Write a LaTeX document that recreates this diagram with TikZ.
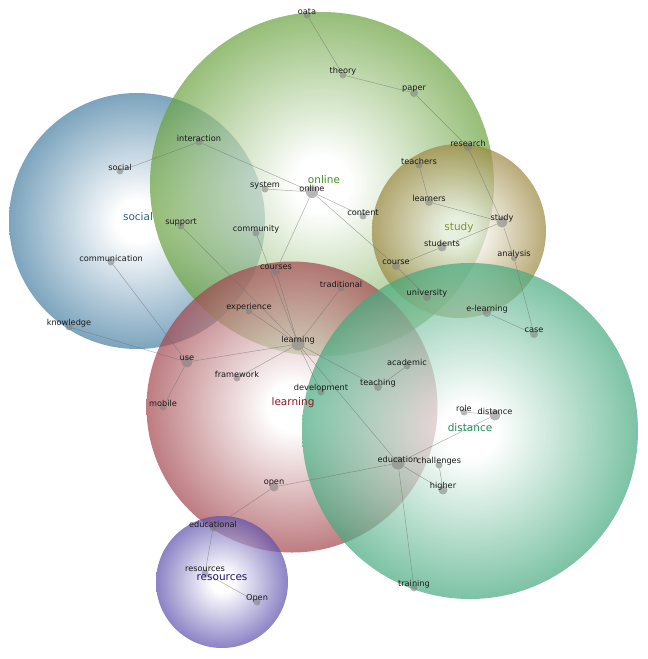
\documentclass[tikz,border=0pt]{standalone}
\usepackage{fontspec}
\setmainfont{DejaVu Sans}
\usetikzlibrary{positioning}
\usepackage{xcolor}
\definecolor{onlinegreen}{RGB}{105,162,62}
\definecolor{socialblue}{RGB}{69,126,162}
\definecolor{studytan}{RGB}{155,134,62}
\definecolor{learningred}{RGB}{162,69,76}
\definecolor{distgreen}{RGB}{69,169,126}
\definecolor{respurple}{RGB}{90,78,172}
\definecolor{onlinelabel}{RGB}{70,140,40}
\definecolor{sociallabel}{RGB}{40,100,140}
\definecolor{studylabel}{RGB}{130,145,40}
\definecolor{learninglabel}{RGB}{150,20,30}
\definecolor{distlabel}{RGB}{30,140,90}
\definecolor{reslabel}{RGB}{30,20,120}
\definecolor{dotgray}{RGB}{125,125,125}
\definecolor{linkgray}{RGB}{110,110,110}
\definecolor{wordblack}{RGB}{25,25,25}
\colorlet{bubblecol}{gray}
\pgfdeclareradialshading[bubblecol]{bubble}{\pgfpoint{0bp}{0bp}}{%
    color(0bp)=(white); color(4bp)=(white); color(25bp)=(bubblecol); color(50bp)=(bubblecol)}
\tikzset{
    bubble color/.code={\colorlet{bubblecol}{#1}},
    bubble/.style={
        circle,
        inner sep=0pt,
        outer sep=0pt,
        shading=bubble,
        opacity=0.7
    },
    dot/.style={
        circle,
        inner sep=0pt,
        fill=dotgray,
        opacity=0.55
    },
    word/.style={
        font=\fontsize{8.2}{9}\selectfont,
        text=wordblack,
        inner sep=0pt
    },
    cluster/.style={
        font=\fontsize{10.5}{12}\selectfont,
        inner sep=0pt
    },
    link/.style={
        draw=linkgray,
        line width=0.45pt,
        opacity=0.6
    }
}
\begin{document}
\begin{tikzpicture}[x=1pt, y=-1pt]
\useasboundingbox (0,0) rectangle (648,659);

% === CLUSTERS ===
\node[bubble color=socialblue, bubble, minimum size=256pt] (c-social) at (137,221) {};
\node[bubble color=onlinegreen, bubble, minimum size=344pt] (c-online) at (322,184) {};
\node[bubble color=studytan, bubble, minimum size=174pt] (c-study) at (459,231) {};
\node[bubble color=learningred, bubble, minimum size=291pt] (c-learning) at (292,407) {};
\node[bubble color=distgreen, bubble, minimum size=336pt] (c-distance) at (470,431) {};
\node[bubble color=respurple, bubble, minimum size=132pt] (c-resources) at (222,582) {};

% === WORDS ===
\foreach \n/\x/\y/\d in {
    oata/307/15/7, theory/343/75/7, paper/414/93/8, research/468/147/8,
    interaction/199/142/7, social/120/171/7, system/265/189/7, online/312/192/12,
    content/363/216/7, teachers/419/165/7, learners/429/202/8, study/502/222/11,
    support/181/226/7, community/256/233/7, communication/111/262/7, students/442/247/9,
    analysis/514/258/6, course/396/266/8, courses/276/271/9, traditional/341/288/7,
    university/427/297/8, experience/249/311/7, e-learning/487/313/8, knowledge/69/327/7,
    case/534/334/8, learning/298/344/13, use/187/362/11, academic/407/366/7,
    framework/237/378/7, teaching/378/387/8, development/321/392/7, mobile/163/407/7,
    role/464/412/7, distance/495/415/11, education/398/463/13, challenges/439/465/7,
    open/274/487/9, higher/443/490/9, educational/213/528/7, resources/205/573/7,
    Open/257/602/7, training/414/588/7} {
    \node[dot, minimum size=\d pt] (\n) at (\x,\y) {};
}

% === LINKS ===
\foreach \a/\b in {
    oata/theory, theory/paper, paper/research, research/study, study/analysis,
    analysis/case, e-learning/case, teachers/learners, learners/study, study/students,
    students/course, online/course, course/university, online/content, online/system,
    online/interaction, interaction/social, online/courses, community/learning,
    courses/learning, support/learning, experience/learning, traditional/learning,
    learning/use, learning/framework, learning/teaching, teaching/academic,
    learning/development, learning/education, use/knowledge, use/communication,
    use/mobile, education/open, open/educational, educational/resources,
    resources/Open, education/distance, role/distance, education/higher,
    challenges/higher, education/training} {
    \draw[link] (\a) -- (\b);
}

% Word labels
\foreach \n in {
    oata, theory, paper, research, interaction, social, system, online, content,
    teachers, learners, study, support, community, communication, students, analysis,
    course, courses, traditional, university, experience, e-learning, knowledge, case,
    learning, use, academic, framework, teaching, development, mobile, role, distance,
    education, challenges, open, higher, educational, resources, Open, training} {
    \node[word, yshift=3.5pt] (\n-txt) at (\n) {\n};
}

% Cluster labels
\node[cluster, text=onlinelabel] (l-online) at (324,180) {online};
\node[cluster, text=sociallabel] (l-social) at (138,217) {social};
\node[cluster, text=studylabel] (l-study) at (459,228) {study};
\node[cluster, text=learninglabel] (l-learning) at (293,403) {learning};
\node[cluster, text=distlabel] (l-distance) at (470,428) {distance};
\node[cluster, text=reslabel] (l-resources) at (222,578) {resources};

\end{tikzpicture}
\end{document}
